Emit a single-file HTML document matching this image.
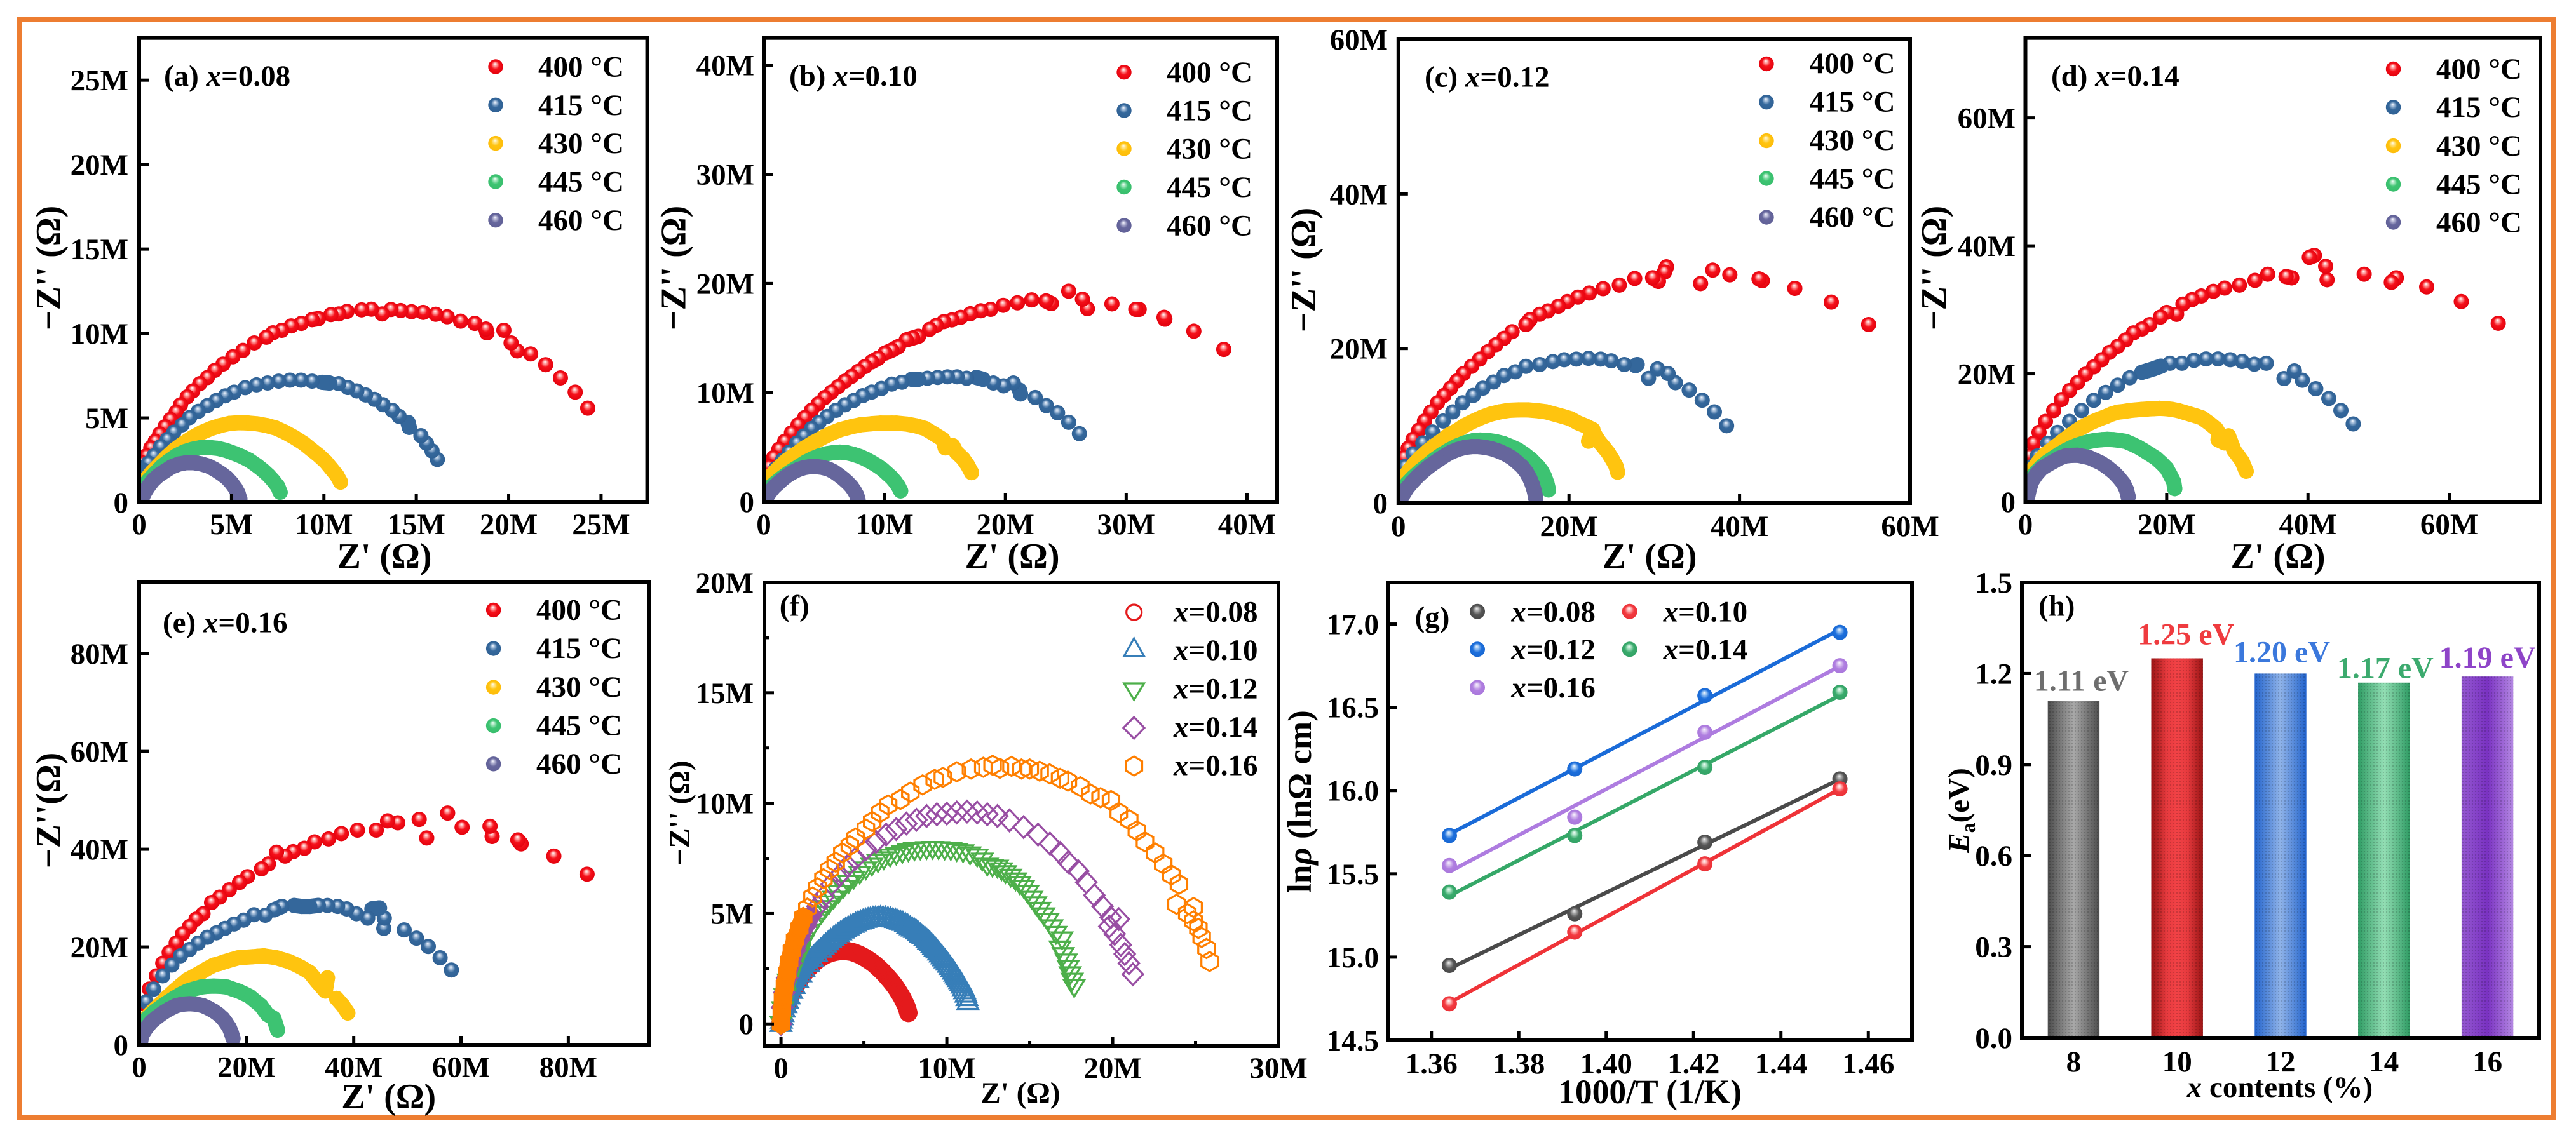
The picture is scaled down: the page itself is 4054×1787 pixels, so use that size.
<!DOCTYPE html>
<html lang="en">
<head>
<meta charset="utf-8">
<title>Impedance spectra and activation energy figure</title>
<style>
html,body{margin:0;padding:0;background:#fff;width:4054px;height:1787px;overflow:hidden}
svg{display:block}
text{font-family:"Liberation Serif","Times New Roman",serif;font-weight:bold;font-size:47px;fill:#000}
.ti{font-size:56px}
.it{font-style:italic}
.frame{fill:none;stroke:#000;stroke-width:6}
</style>
</head>
<body>
<svg id="figure" xmlns="http://www.w3.org/2000/svg" width="4054" height="1787" viewBox="0 0 4054 1787">
<defs>
<radialGradient id="ball-red" cx=".5" cy=".5" r=".55" fx=".46" fy=".3"><stop offset="0" stop-color="#fff"/><stop offset=".22" stop-color="#ff9a9a"/><stop offset=".5" stop-color="#f5101a"/><stop offset="1" stop-color="#e0000c"/></radialGradient>
<radialGradient id="ball-blue" cx=".5" cy=".5" r=".55" fx=".46" fy=".3"><stop offset="0" stop-color="#f4f8ff"/><stop offset=".22" stop-color="#9db8d6"/><stop offset=".5" stop-color="#35689c"/><stop offset="1" stop-color="#2f6093"/></radialGradient>
<radialGradient id="ball-yellow" cx=".5" cy=".5" r=".55" fx=".46" fy=".3"><stop offset="0" stop-color="#fffbe8"/><stop offset=".22" stop-color="#ffe285"/><stop offset=".5" stop-color="#ffc40f"/><stop offset="1" stop-color="#fdbb0a"/></radialGradient>
<radialGradient id="ball-green" cx=".5" cy=".5" r=".55" fx=".46" fy=".3"><stop offset="0" stop-color="#f2fff7"/><stop offset=".22" stop-color="#a3e6bd"/><stop offset=".5" stop-color="#3ec472"/><stop offset="1" stop-color="#37bd6c"/></radialGradient>
<radialGradient id="ball-purple" cx=".5" cy=".5" r=".55" fx=".46" fy=".3"><stop offset="0" stop-color="#f6f6ff"/><stop offset=".22" stop-color="#b5b5d4"/><stop offset=".5" stop-color="#67679d"/><stop offset="1" stop-color="#5f5f96"/></radialGradient>
<radialGradient id="g-gray" cx=".5" cy=".5" r=".55" fx=".46" fy=".3"><stop offset="0" stop-color="#f2f2f2"/><stop offset=".25" stop-color="#a8a8a8"/><stop offset=".55" stop-color="#575757"/><stop offset="1" stop-color="#444"/></radialGradient>
<radialGradient id="g-red" cx=".5" cy=".5" r=".55" fx=".46" fy=".3"><stop offset="0" stop-color="#fff"/><stop offset=".25" stop-color="#ffb0b0"/><stop offset=".55" stop-color="#f23a40"/><stop offset="1" stop-color="#e92f35"/></radialGradient>
<radialGradient id="g-blue" cx=".5" cy=".5" r=".55" fx=".46" fy=".3"><stop offset="0" stop-color="#f2f8ff"/><stop offset=".25" stop-color="#92bff2"/><stop offset=".55" stop-color="#1d6fdc"/><stop offset="1" stop-color="#1766d0"/></radialGradient>
<radialGradient id="g-green" cx=".5" cy=".5" r=".55" fx=".46" fy=".3"><stop offset="0" stop-color="#f2fff8"/><stop offset=".25" stop-color="#a4e0bf"/><stop offset=".55" stop-color="#39aa6c"/><stop offset="1" stop-color="#32a164"/></radialGradient>
<radialGradient id="g-purple" cx=".5" cy=".5" r=".55" fx=".46" fy=".3"><stop offset="0" stop-color="#fbf6ff"/><stop offset=".25" stop-color="#d8c0f0"/><stop offset=".55" stop-color="#b07fe0"/><stop offset="1" stop-color="#a875db"/></radialGradient>
<linearGradient id="bar-gray"><stop offset="0" stop-color="#4c4c4c"/><stop offset=".5" stop-color="#a8a8a8"/><stop offset="1" stop-color="#4c4c4c"/></linearGradient>
<linearGradient id="bar-red"><stop offset="0" stop-color="#9a1414"/><stop offset=".3" stop-color="#e63a3e"/><stop offset=".5" stop-color="#f24246"/><stop offset=".7" stop-color="#e63a3e"/><stop offset="1" stop-color="#9a1414"/></linearGradient>
<linearGradient id="bar-blue"><stop offset="0" stop-color="#2263cc"/><stop offset=".5" stop-color="#8fb3e8"/><stop offset="1" stop-color="#2263cc"/></linearGradient>
<linearGradient id="bar-green"><stop offset="0" stop-color="#2f9c64"/><stop offset=".5" stop-color="#93deb4"/><stop offset="1" stop-color="#2f9c64"/></linearGradient>
<linearGradient id="bar-purple"><stop offset="0" stop-color="#9458d0"/><stop offset=".5" stop-color="#7a32c2"/><stop offset="1" stop-color="#b488e2"/></linearGradient>
<pattern id="bar-dots" width="5" height="5" patternUnits="userSpaceOnUse"><rect width="2" height="2" fill="rgba(0,0,0,.16)"/></pattern>
<clipPath id="clip-a"><rect x="219" y="59.7" width="799.6" height="731.3"/></clipPath>
<clipPath id="clip-b"><rect x="1202" y="59.7" width="808" height="730.3"/></clipPath>
<clipPath id="clip-c"><rect x="2200.8" y="62" width="805.2" height="730"/></clipPath>
<clipPath id="clip-d"><rect x="3187.5" y="59.7" width="810.5" height="730.3"/></clipPath>
<clipPath id="clip-e"><rect x="219" y="916" width="802" height="729"/></clipPath>
<clipPath id="clip-f"><rect x="1203" y="917" width="809" height="730"/></clipPath>
</defs>

<rect width="4054" height="1787" fill="#fff"/>
<rect x="31" y="30" width="3988" height="1729" fill="none" stroke="#ED7D31" stroke-width="8"/>

<!-- panel a -->
<g>
<g id="plot-a" clip-path="url(#clip-a)"></g>
<rect class="frame" x="219" y="59.7" width="799.6" height="731.3"/>
<g id="ticks-a"></g>
<text x="258" y="135">(a) <tspan class="it">x</tspan>=0.08</text>
<text class="ti" x="605" y="894" text-anchor="middle">Z' (Ω)</text>
<text class="ti" transform="translate(95 422) rotate(-90)" text-anchor="middle">−Z'' (Ω)</text>
<g>
<circle cx="780" cy="105" r="11.7" fill="url(#ball-red)"/><text x="847" y="120.5">400 °C</text>
<circle cx="780" cy="165.3" r="11.7" fill="url(#ball-blue)"/><text x="847" y="181">415 °C</text>
<circle cx="780" cy="225.6" r="11.7" fill="url(#ball-yellow)"/><text x="847" y="241">430 °C</text>
<circle cx="780" cy="286" r="11.7" fill="url(#ball-green)"/><text x="847" y="301.5">445 °C</text>
<circle cx="780" cy="346.7" r="11.7" fill="url(#ball-purple)"/><text x="847" y="362">460 °C</text>
</g>
</g>

<!-- panel b -->
<g>
<g id="plot-b" clip-path="url(#clip-b)"></g>
<rect class="frame" x="1202" y="59.7" width="808" height="730.3"/>
<g id="ticks-b"></g>
<text x="1242" y="135">(b) <tspan class="it">x</tspan>=0.10</text>
<text class="ti" x="1593" y="894" text-anchor="middle">Z' (Ω)</text>
<text class="ti" transform="translate(1078.6 422) rotate(-90)" text-anchor="middle">−Z'' (Ω)</text>
<g>
<circle cx="1769" cy="113.7" r="11.7" fill="url(#ball-red)"/><text x="1836" y="129">400 °C</text>
<circle cx="1769" cy="174" r="11.7" fill="url(#ball-blue)"/><text x="1836" y="189.5">415 °C</text>
<circle cx="1769" cy="234" r="11.7" fill="url(#ball-yellow)"/><text x="1836" y="249.5">430 °C</text>
<circle cx="1769" cy="294.5" r="11.7" fill="url(#ball-green)"/><text x="1836" y="310">445 °C</text>
<circle cx="1769" cy="355" r="11.7" fill="url(#ball-purple)"/><text x="1836" y="370.5">460 °C</text>
</g>
</g>

<!-- panel c -->
<g>
<g id="plot-c" clip-path="url(#clip-c)"></g>
<rect class="frame" x="2200.8" y="62" width="805.2" height="730"/>
<g id="ticks-c"></g>
<text x="2242" y="136.6">(c) <tspan class="it">x</tspan>=0.12</text>
<text class="ti" x="2596" y="894" text-anchor="middle">Z' (Ω)</text>
<text class="ti" transform="translate(2070 425) rotate(-90)" text-anchor="middle">−Z'' (Ω)</text>
<g>
<circle cx="2780" cy="100.5" r="11.7" fill="url(#ball-red)"/><text x="2847.5" y="115">400 °C</text>
<circle cx="2780" cy="160.7" r="11.7" fill="url(#ball-blue)"/><text x="2847.5" y="175.5">415 °C</text>
<circle cx="2780" cy="221.6" r="11.7" fill="url(#ball-yellow)"/><text x="2847.5" y="236">430 °C</text>
<circle cx="2780" cy="281" r="11.7" fill="url(#ball-green)"/><text x="2847.5" y="296.5">445 °C</text>
<circle cx="2780" cy="342" r="11.7" fill="url(#ball-purple)"/><text x="2847.5" y="357">460 °C</text>
</g>
</g>

<!-- panel d -->
<g>
<g id="plot-d" clip-path="url(#clip-d)"></g>
<rect class="frame" x="3187.5" y="59.7" width="810.5" height="730.3"/>
<g id="ticks-d"></g>
<text x="3228" y="135">(d) <tspan class="it">x</tspan>=0.14</text>
<text class="ti" x="3585" y="894" text-anchor="middle">Z' (Ω)</text>
<text class="ti" transform="translate(3062 422) rotate(-90)" text-anchor="middle">−Z'' (Ω)</text>
<g>
<circle cx="3766.5" cy="108.5" r="11.7" fill="url(#ball-red)"/><text x="3834" y="124">400 °C</text>
<circle cx="3766.5" cy="168.8" r="11.7" fill="url(#ball-blue)"/><text x="3834" y="184">415 °C</text>
<circle cx="3766.5" cy="229.6" r="11.7" fill="url(#ball-yellow)"/><text x="3834" y="245">430 °C</text>
<circle cx="3766.5" cy="290" r="11.7" fill="url(#ball-green)"/><text x="3834" y="305.5">445 °C</text>
<circle cx="3766.5" cy="350" r="11.7" fill="url(#ball-purple)"/><text x="3834" y="365.5">460 °C</text>
</g>
</g>

<!-- panel e -->
<g>
<g id="plot-e" clip-path="url(#clip-e)"></g>
<rect class="frame" x="219" y="916" width="802" height="729"/>
<g id="ticks-e"></g>
<text x="256" y="995.7">(e) <tspan class="it">x</tspan>=0.16</text>
<text class="ti" x="611.7" y="1745" text-anchor="middle">Z' (Ω)</text>
<text class="ti" transform="translate(95 1276) rotate(-90)" text-anchor="middle">−Z''(Ω)</text>
<g>
<circle cx="776.6" cy="960.4" r="11.7" fill="url(#ball-red)"/><text x="844" y="975.4">400 °C</text>
<circle cx="776.6" cy="1021" r="11.7" fill="url(#ball-blue)"/><text x="844" y="1036">415 °C</text>
<circle cx="776.6" cy="1082" r="11.7" fill="url(#ball-yellow)"/><text x="844" y="1097">430 °C</text>
<circle cx="776.6" cy="1142.6" r="11.7" fill="url(#ball-green)"/><text x="844" y="1157.6">445 °C</text>
<circle cx="776.6" cy="1202.8" r="11.7" fill="url(#ball-purple)"/><text x="844" y="1217.8">460 °C</text>
</g>
</g>

<!-- panel f -->
<g>
<g id="plot-f" clip-path="url(#clip-f)"></g>
<rect class="frame" x="1203" y="917" width="809" height="730"/>
<g id="ticks-f"></g>
<text x="1226.7" y="969.7">(f)</text>
<text x="1606" y="1736" text-anchor="middle">Z' (Ω)</text>
<text transform="translate(1085 1280) rotate(-90)" text-anchor="middle">−Z'' (Ω)</text>
<g fill="none" stroke-width="3.2">
<circle cx="1784.7" cy="964" r="12" stroke="#E41A1C"/><text x="1847" y="978.3" stroke="none"><tspan class="it">x</tspan>=0.08</text>
<polygon points="1784.7,1005 1769,1033 1800.5,1033" stroke="#377EB8"/><text x="1847" y="1038.8" stroke="none"><tspan class="it">x</tspan>=0.10</text>
<polygon points="1769,1076 1800.5,1076 1784.7,1102" stroke="#4DAF4A"/><text x="1847" y="1099.3" stroke="none"><tspan class="it">x</tspan>=0.12</text>
<polygon points="1784.7,1129 1801,1146 1784.7,1163 1768,1146" stroke="#984EA3"/><text x="1847" y="1159.8" stroke="none"><tspan class="it">x</tspan>=0.14</text>
<polygon points="1784.7,1191 1797.5,1198.5 1797.5,1213.5 1784.7,1221 1772,1213.5 1772,1198.5" stroke="#FF7F00"/><text x="1847" y="1220.3" stroke="none"><tspan class="it">x</tspan>=0.16</text>
</g>
</g>

<!-- panel g -->
<g>
<g id="plot-g"></g>
<rect class="frame" x="2184" y="917" width="825" height="721"/>
<g id="ticks-g"></g>
<text x="2226.6" y="987">(g)</text>
<text style="font-size:53.5px" x="2596.6" y="1737" text-anchor="middle">1000/T (1/K)</text>
<text style="font-size:53px" transform="translate(2063 1262) rotate(-90)" text-anchor="middle">ln<tspan class="it">ρ</tspan> (lnΩ cm)</text>
<g>
<circle cx="2325" cy="962.7" r="12" fill="url(#g-gray)"/><text x="2378.4" y="978.3"><tspan class="it">x</tspan>=0.08</text>
<circle cx="2564.7" cy="962.7" r="12" fill="url(#g-red)"/><text x="2617.6" y="978.3"><tspan class="it">x</tspan>=0.10</text>
<circle cx="2325" cy="1022.3" r="12" fill="url(#g-blue)"/><text x="2378.4" y="1038"><tspan class="it">x</tspan>=0.12</text>
<circle cx="2564.7" cy="1022.3" r="12" fill="url(#g-green)"/><text x="2617.6" y="1038"><tspan class="it">x</tspan>=0.14</text>
<circle cx="2325" cy="1082.5" r="12" fill="url(#g-purple)"/><text x="2378.4" y="1098"><tspan class="it">x</tspan>=0.16</text>
</g>
</g>

<!-- panel h -->
<g>
<g id="plot-h"></g>
<rect class="frame" x="3182" y="917" width="814" height="717"/>
<g id="ticks-h"></g>
<text x="3208" y="969.7">(h)</text>
<text x="3588" y="1727" text-anchor="middle"><tspan class="it">x</tspan> contents (%)</text>
<text transform="translate(3098 1276) rotate(-90)" text-anchor="middle"><tspan class="it">E</tspan><tspan dy="10" style="font-size:32px">a</tspan><tspan dy="-10">(eV)</tspan></text>
</g>
</svg>

<script>
/* Panel a, Z' and -Z'' pairs in megaohms */
const a400=[[24.28,5.58],[23.6,6.53],[22.8,7.37],[22,8.15],[21.19,8.79],[20.46,8.97],[20.13,9.44],[19.74,10.19],[18.82,10.04],[18.77,10.26],[18.17,10.6],[17.4,10.73],[16.67,10.99],[16.05,11.14],[15.37,11.25],[14.74,11.29],[14.16,11.36],[13.63,11.42],[13.15,11.16],[12.57,11.44],[12.04,11.4],[11.25,11.31],[10.81,11.16],[10.38,11.12],[9.7,10.88],[9.36,10.82],[8.78,10.6],[8.23,10.45],[7.72,10.19],[7.24,10.04],[6.88,9.78],[6.23,9.44],[5.62,9],[5.07,8.62],[4.54,8.19],[4.1,7.82],[3.69,7.39],[3.28,7.03],[2.9,6.6],[2.6,6.25],[2.24,5.78],[2,5.34],[1.69,4.91],[1.4,4.48],[1.11,4.05],[.87,3.62],[.63,3.23],[.39,2.76],[.19,2.33],[.1,1.9]];
const a415=[[16.14,2.54],[15.85,3.05],[15.55,3.5],[15.25,3.95],[14.62,4.44],[14.55,4.74],[14.07,5.09],[13.7,5.45],[13.2,5.78],[12.74,6.1],[12.26,6.36],[11.78,6.6],[11.3,6.8],[10.8,7.03],[10.3,7.07],[9.9,7.11],[9.36,7.18],[8.76,7.24],[8.16,7.24],[7.55,7.18],[6.95,7.07],[6.35,6.96],[5.74,6.79],[5.14,6.53],[4.66,6.31],[4.17,6.03],[3.69,5.73],[3.2,5.39],[2.73,5.02],[2.32,4.59],[1.88,4.16],[1.52,3.73],[1.16,3.3],[.8,2.76],[.5,2.33],[.25,1.9],[.1,1.47]];
const a430=[[10.9,1.2],[10.7,1.6],[10.4,2],[10.1,2.4],[9.7,2.8],[9.3,3.15],[8.9,3.5],[8.4,3.85],[7.9,4.15],[7.4,4.4],[6.9,4.55],[6.4,4.65],[5.9,4.7],[5.4,4.72],[4.9,4.68],[4.4,4.55],[3.9,4.38],[3.4,4.15],[2.9,3.85],[2.4,3.5],[1.9,3.1],[1.5,2.7],[1.1,2.25],[.7,1.8],[.4,1.4],[.15,1]];
const a445=[[7.63,.6],[7.5,.95],[7.25,1.3],[7,1.6],[6.7,1.9],[6.35,2.2],[5.95,2.5],[5.55,2.72],[5.15,2.9],[4.7,3.08],[4.25,3.2],[3.8,3.25],[3.35,3.25],[2.9,3.15],[2.45,3],[2,2.75],[1.6,2.45],[1.2,2.1],[.85,1.7],[.5,1.3],[.25,.95],[.1,.6]];
const a460=[[5.45,.2],[5.35,.55],[5.2,.85],[5,1.15],[4.75,1.45],[4.45,1.7],[4.1,1.95],[3.75,2.15],[3.35,2.28],[2.95,2.35],[2.55,2.35],[2.15,2.27],[1.75,2.1],[1.4,1.85],[1.05,1.6],[.75,1.3],[.5,.95],[.3,.6],[.15,.25],[.1,.05]];
const aXTicks=[0,5,10,15,20,25];
const aYTicks=[0,5,10,15,20,25];

/* Panel b */
const b400=[[38.08,13.96],[35.6,15.63],[33.2,16.73],[33.14,16.9],[31.07,17.63],[30.8,17.63],[28.82,18.13],[26.79,17.7],[26.38,18.56],[25.24,19.3],[23.8,18.16],[23.36,18.4],[22.18,18.5],[21,18.23],[19.82,18],[18.78,17.63],[17.97,17.5],[17.1,17.23],[16.3,16.9],[15.57,16.66],[14.9,16.5],[14.28,16.16],[13.73,15.8],[12.8,15.16],[12.32,15],[11.8,14.83],[11.14,14.22],[10.6,13.89],[10.04,13.62],[9.48,13.16],[8.93,12.82],[8.38,12.39],[7.82,11.95],[7.27,11.49],[6.72,11.05],[6.16,10.55],[5.6,10.05],[5.05,9.55],[4.5,8.98],[3.95,8.38],[3.39,7.71],[2.84,7.05],[2.29,6.31],[1.73,5.54],[1.25,4.81],[.81,4.04],[.44,3.2]];
const b415=[[26.13,6.24],[25.24,7.28],[24.32,8.15],[23.39,8.81],[22.47,9.55],[21.25,9.88],[21.18,10.22],[20.66,10.88],[19.85,10.62],[19,10.88],[18.15,11.22],[17.6,11.39],[16.79,11.32],[16,11.45],[15.2,11.45],[14.39,11.39],[13.54,11.32],[12.8,11.22],[12.25,11.22],[11.44,10.95],[10.59,10.78],[9.74,10.38],[8.93,10.05],[8.19,9.72],[7.45,9.28],[6.72,8.88],[5.98,8.38],[5.24,7.81],[4.58,7.28],[3.95,6.71],[3.32,6.04],[2.73,5.38],[2.1,4.54],[1.55,3.81],[1,3.04],[.44,2.2]];
const b430=[[17.2,2.67],[16.86,3.37],[16.5,3.94],[15.94,4.54],[15.65,5.14],[15.02,4.94],[14.83,5.71],[14.1,6.21],[13.36,6.71],[12.62,6.95],[11.88,7.11],[10.96,7.21],[10.6,7.21],[9.67,7.21],[8.93,7.15],[8,7.05],[7.27,6.88],[6.35,6.61],[5.6,6.28],[4.87,5.88],[4.13,5.44],[3.39,4.94],[2.66,4.37],[1.92,3.81],[1.18,3.04],[.44,2.2],[.1,1.7]];
const b445=[[11.33,1],[11.15,1.4],[10.9,1.8],[10.6,2.2],[10.25,2.55],[9.85,2.95],[9.4,3.3],[8.95,3.6],[8.45,3.9],[7.95,4.15],[7.4,4.35],[6.85,4.5],[6.3,4.55],[5.75,4.5],[5.2,4.4],[4.6,4.2],[4.05,3.95],[3.5,3.65],[3,3.3],[2.5,2.95],[2,2.6],[1.5,2.2],[1.05,1.8],[.6,1.4],[.25,1],[.1,.6]];
const b460=[[7.8,.2],[7.7,.6],[7.5,1],[7.25,1.4],[6.95,1.75],[6.6,2.1],[6.2,2.45],[5.8,2.75],[5.35,3],[4.85,3.15],[4.35,3.22],[3.85,3.22],[3.35,3.13],[2.85,2.95],[2.4,2.7],[1.95,2.4],[1.55,2.05],[1.2,1.7],[.85,1.35],[.55,.95],[.3,.55],[.15,.15]];
const bXTicks=[0,10,20,30,40];
const bYTicks=[0,10,20,30,40];

/* Panel c */
const c400=[[55.14,23.1],[50.76,26],[46.48,27.78],[42.67,28.77],[42.29,29],[38.86,29.53],[36.86,30.14],[35.43,28.4],[31.43,30.57],[31.2,29.9],[30.48,28.68],[29.81,29.15],[27.71,29.06],[25.9,28.2],[24,27.74],[22.38,27.17],[21.05,26.65],[19.81,26.08],[18.76,25.47],[17.52,24.86],[16.57,24.43],[15.43,23.73],[14.95,23.1],[13.33,22.17],[12.38,21.32],[11.43,20.5],[10.48,19.58],[9.52,18.63],[8.57,17.69],[7.62,16.75],[6.86,15.8],[6.1,14.86],[5.33,13.92],[4.57,12.97],[3.81,11.79],[3.05,10.61],[2.38,9.43],[1.71,8.25],[1.14,7.08],[.67,5.9],[.29,4.72]];
const c415=[[38.48,10],[37.05,11.79],[35.62,13.3],[34.1,14.62],[32.48,15.57],[31.62,16.75],[30.38,17.36],[29.33,16.13],[28,17.92],[27.81,17.78],[26.48,17.92],[24.95,18.4],[23.71,18.63],[22.29,18.73],[20.86,18.63],[19.43,18.54],[18.1,18.3],[16.57,17.92],[14.95,17.69],[13.71,16.98],[12.38,16.5],[11.14,15.66],[9.9,14.86],[8.76,13.92],[7.52,12.97],[6.38,11.79],[5.24,10.61],[4,9.2],[2.86,7.78],[1.71,6.37],[.76,4.72]];
const c430=[[25.7,4],[25.5,4.8],[25.1,5.6],[24.6,6.5],[24.1,7.2],[23.5,8],[23,8.9],[22.3,8],[22.8,9.5],[21.9,10],[21,10.4],[20.2,10.9],[19.3,11.2],[18.3,11.5],[17.3,11.8],[16.3,11.95],[15.2,12.05],[14.1,12.05],[13,12],[11.9,11.8],[10.8,11.5],[9.8,11.1],[8.8,10.6],[7.8,10.05],[6.9,9.4],[5.9,8.8],[5.1,8.1],[4.2,7.4],[3.4,6.7],[2.6,5.9],[1.9,5.1],[1.3,4.3],[.8,3.5]];
const c445=[[17.6,1.7],[17.4,2.6],[17.1,3.5],[16.75,4.2],[16.4,4.7],[15.6,5.6],[14.8,6.3],[14,6.9],[13.2,7.3],[12.3,7.7],[11.4,7.95],[10.5,8.1],[9.6,8.15],[8.7,8.05],[7.8,7.8],[6.9,7.4],[6,6.9],[5.1,6.3],[4.2,5.6],[3.3,4.8],[2.5,4.1],[1.7,3.3],[1,2.5],[.5,1.7]];
const c460=[[16.1,.6],[15.95,1.5],[15.7,2.4],[15.4,3.2],[15,4],[14.5,4.7],[13.9,5.3],[13.3,5.85],[12.6,6.3],[11.8,6.7],[11,7],[10.2,7.2],[9.4,7.3],[8.6,7.3],[7.8,7.2],[7,6.95],[6.2,6.6],[5.4,6.1],[4.6,5.5],[3.8,4.9],[3,4.2],[2.3,3.5],[1.6,2.7],[1,1.9],[.5,1],[.2,.3]];
const cXTicks=[0,20,40,60];
const cYTicks=[0,20,40,60];

/* Panel d */
const d400=[[66.93,27.9],[61.7,31.3],[56.8,33.58],[52.5,35],[51.8,34.3],[47.95,35.57],[42.7,34.7],[42.5,36.8],[40.9,38.5],[40.2,38.2],[37.7,35],[36.9,35.2],[34.3,35.57],[32.5,34.6],[30.3,33.86],[28.2,33.4],[26.6,32.9],[24.9,32.16],[23.6,31.6],[22.3,30.9],[21.4,29.3],[20,29.6],[19.1,28.86],[17.6,27.7],[16.5,27],[15.3,26.4],[14.2,25.3],[13.07,24.3],[11.9,23.35],[10.8,22.2],[9.66,21.08],[8.5,19.94],[7.39,18.64],[6.25,17.39],[5.1,15.97],[4,14.26],[2.84,12.56],[1.93,10.85],[1.14,9.15],[.57,7.16]];
const d415=[[46.4,12.16],[44.66,14.26],[42.95,16.14],[41.1,17.67],[39.2,19],[38.07,20.45],[36.6,19.26],[34.1,21.65],[32.4,21.5],[30.68,21.93],[29,22.2],[27.27,22.33],[25.57,22.33],[23.86,22.1],[22.16,21.65],[20.45,21.65],[19.2,21.2],[18.18,20.8],[17.3,20.5],[16.48,20.23],[14.77,19.38],[13.07,18.24],[11.36,17.1],[9.66,15.85],[7.95,14.26],[6.25,12.56],[4.55,10.85],[3.18,9.15],[1.7,7.16],[.8,5.45]];
const d430=[[31.25,4.77],[30.68,6.3],[30.1,7.2],[29.55,8],[28.75,10.3],[27.27,9.7],[28.2,9.2],[27,11.4],[26,12.3],[25,13.1],[24.2,13.4],[23.3,13.7],[22.4,14],[21.6,14.26],[20.7,14.45],[19.9,14.55],[19,14.6],[18.18,14.55],[17.3,14.5],[16.48,14.43],[15.6,14.35],[14.77,14.26],[13.9,14.1],[13.07,14],[12.2,13.7],[11.36,13.3],[10.5,12.95],[9.66,12.56],[8.8,12.1],[7.95,11.6],[7.1,11],[6.25,10.3],[5.4,9.6],[4.55,8.86],[3.7,8.15],[2.84,7.44],[2.2,6.7],[1.7,6],[1.1,5.1],[.57,4.3]];
const d445=[[21.14,2.05],[21,3.1],[20.45,4.3],[20,5.2],[19.3,6],[18.5,6.8],[17.6,7.44],[16.8,8],[15.9,8.58],[15,9.05],[14.2,9.43],[13.3,9.6],[12.5,9.7],[11.6,9.75],[10.8,9.7],[9.9,9.6],[9.1,9.43],[8.2,9.15],[7.39,8.86],[6.5,8.45],[5.68,8],[4.8,7.45],[4,6.87],[3.1,6.2],[2.27,5.45],[1.5,4.6],[.9,3.75]];
const d460=[[14.55,.8],[14.3,1.9],[13.86,2.9],[13.2,3.8],[12.5,4.6],[11.7,5.3],[10.8,6],[9.95,6.45],[9.1,6.87],[8.2,7.1],[7.39,7.27],[6.5,7.25],[5.68,7.16],[4.8,6.8],[4,6.3],[3.1,5.75],[2.27,5.17],[1.5,4.2],[.9,3.18],[.55,2],[.34,.9]];
const dXTicks=[0,20,40,60];
const dYTicks=[0,20,40,60];

/* Panel e */
const e400=[[83.5,34.9],[77.3,38.6],[71.2,41.1],[70.6,41.9],[65.8,42.6],[65.4,44.7],[60.2,44.5],[57.5,47.4],[53.6,42.3],[52.2,46.1],[48.2,45.4],[46.3,45.8],[44.2,43.9],[40.7,43.9],[37.7,43.2],[35.3,42.1],[32.7,41.5],[30.8,40.2],[28.7,39.5],[27.2,38.6],[25.6,39.4],[24.1,37],[22.8,36],[20.2,34.4],[18.7,33.2],[16.8,31.7],[15,30.2],[13.5,29.1],[11.9,26.8],[10.6,25.7],[9.4,24.2],[8.1,22.7],[6.9,20.8],[5.6,18.9],[4.4,16.7],[3.2,14.1],[1.9,11.4],[.8,8.4]];
const e415=[[58.2,15.3],[56.1,17.8],[53.9,20.1],[51.7,21.8],[49.4,23.5],[45.6,23.8],[45.7,25.9],[44.8,28],[43.4,27.8],[42.6,25.9],[40.5,26.8],[38.7,27.8],[37,28.3],[35.1,28.5],[33.4,28.5],[31.8,28.3],[30.3,28.3],[28.9,28.5],[26.6,28.3],[25.1,27.6],[23.5,26.5],[21.4,26.6],[19.5,25.5],[17.7,24.7],[16,23.8],[14.4,22.9],[12.7,22],[11,20.8],[9.4,19.5],[7.7,18.2],[6.1,16.3],[4.4,14.1],[2.7,11.4],[1.3,8.8]];
const e430=[[38.9,6.5],[38,8],[36.8,9.5],[35.1,13.7],[34.7,11],[33.2,12.9],[31.8,14.8],[30.1,15.9],[29,16.5],[28,17],[26.8,17.4],[25.6,17.8],[24.4,18],[23.2,18.2],[22.1,18.1],[21,18],[19.7,17.9],[18.5,17.8],[17.2,17.4],[16,17],[14.9,16.6],[13.9,16.3],[12.7,15.6],[11.5,14.8],[10.2,14],[9,13.3],[7.8,12.2],[6.5,11],[5.2,9.7],[4,8.4],[2.9,7.3],[1.9,6.2],[1,5.2],[.25,4.3]];
const e445=[[25.8,3],[25.4,4.4],[25.1,5.4],[23.9,6.2],[23.3,7.1],[22.7,8],[21.6,9],[20.6,9.9],[19.5,10.5],[18.5,11],[17.4,11.4],[16.4,11.8],[15.2,11.95],[13.9,12],[12.7,11.95],[11.5,11.8],[10.2,11.4],[9,11],[7.7,10.3],[6.5,9.5],[5.2,8.6],[4,7.7],[2.9,6.8],[1.9,5.8],[1,4.9],[.25,3.9]];
const e460=[[17.5,1.3],[17.2,2.4],[16.8,3.5],[16.2,4.5],[15.6,5.4],[14.8,6.2],[13.9,6.9],[12.9,7.5],[11.9,8],[10.7,8.3],[9.4,8.4],[8.1,8.3],[6.9,8],[5.6,7.3],[4.4,6.5],[3.3,5.6],[2.3,4.7],[1.3,3.4],[.5,2],[.25,.5]];
const eXTicks=[0,20,40,60,80];
const eYTicks=[0,20,40,60,80];

/* Panel f */
const f008=[[0,0],[.02,.1],[.05,.22],[.1,.36],[.15,.5],[.22,.65],[.3,.82],[.4,1],[.5,1.18],[.62,1.37],[.75,1.55],[.9,1.75],[1.05,1.93],[1.2,2.1],[1.4,2.3],[1.6,2.47],[1.8,2.63],[2,2.78],[2.25,2.93],[2.5,3.05],[2.75,3.15],[3,3.22],[3.25,3.27],[3.5,3.3],[3.75,3.31],[4,3.3],[4.25,3.27],[4.5,3.21],[4.75,3.13],[5,3.03],[5.2,2.94],[5.4,2.84],[5.6,2.73],[5.8,2.6],[6,2.46],[6.15,2.35],[6.3,2.23],[6.45,2.1],[6.6,1.97],[6.75,1.83],[6.9,1.68],[7,1.57],[7.1,1.45],[7.2,1.33],[7.3,1.2],[7.4,1.05],[7.5,.9],[7.6,.72],[7.68,.5]];
const f010=[[0,0],[.03,.15],[.07,.3],[.12,.45],[.2,.65],[.3,.85],[.4,1.05],[.5,1.25],[.65,1.5],[.8,1.72],[1,2],[1.2,2.25],[1.4,2.47],[1.65,2.72],[1.9,2.95],[2.15,3.17],[2.4,3.37],[2.55,3.49],[2.7,3.6],[2.85,3.7],[3,3.8],[3.15,3.89],[3.3,3.98],[3.45,4.07],[3.6,4.15],[3.75,4.23],[3.9,4.3],[4.05,4.37],[4.2,4.43],[4.35,4.49],[4.5,4.55],[4.65,4.6],[4.8,4.64],[4.95,4.68],[5.1,4.72],[5.25,4.75],[5.4,4.78],[5.55,4.8],[5.7,4.81],[5.85,4.82],[6,4.83],[6.15,4.82],[6.3,4.81],[6.45,4.79],[6.6,4.77],[6.75,4.74],[6.9,4.71],[7.05,4.67],[7.2,4.63],[7.35,4.58],[7.5,4.52],[7.65,4.45],[7.8,4.38],[7.92,4.32],[8.05,4.26],[8.18,4.19],[8.3,4.12],[8.42,4.05],[8.55,3.97],[8.68,3.89],[8.8,3.8],[8.9,3.73],[9,3.65],[9.1,3.58],[9.2,3.5],[9.3,3.42],[9.4,3.33],[9.5,3.24],[9.6,3.15],[9.7,3.06],[9.8,2.97],[9.9,2.88],[10,2.78],[10.1,2.68],[10.2,2.58],[10.3,2.48],[10.4,2.37],[10.48,2.28],[10.55,2.2],[10.62,2.12],[10.7,2.03],[10.78,1.94],[10.85,1.85],[10.92,1.74],[11,1.62],[11.08,1.48],[11.15,1.33],[11.22,1.17],[11.27,1]];
const f012=[[0,0],[.1,.67],[.24,1.25],[.44,1.92],[.73,2.58],[1.02,3.17],[1.34,3.67],[1.7,4.17],[1.95,4.46],[2.2,4.75],[2.44,5],[2.68,5.25],[2.92,5.46],[3.17,5.67],[3.47,5.92],[3.78,6.17],[4.08,6.38],[4.39,6.58],[4.75,6.8],[5.12,7],[5.48,7.17],[5.85,7.33],[6.2,7.46],[6.58,7.58],[6.95,7.67],[7.32,7.75],[7.68,7.82],[8.05,7.87],[8.4,7.9],[8.78,7.92],[9.14,7.93],[9.5,7.92],[9.87,7.9],[10.24,7.88],[10.6,7.83],[10.98,7.78],[11.4,7.68],[11.83,7.58],[12.14,7.4],[12.44,7.17],[12.75,7.12],[13.05,7.08],[13.3,6.96],[13.54,6.83],[13.85,6.67],[14.15,6.5],[14.4,6.33],[14.63,6.17],[14.88,5.92],[15.12,5.67],[15.36,5.42],[15.6,5.17],[15.85,4.92],[16.1,4.67],[16.34,4.38],[16.58,4.08],[16.95,3.83],[16.83,3.42],[17.02,3.12],[17.2,2.83],[17.32,2.54],[17.44,2.25],[17.56,1.96],[17.68,1.67]];
const f014=[[0,0],[.07,.75],[.2,1.42],[.37,2.08],[.6,2.75],[.85,3.33],[1.1,3.83],[1.46,4.42],[1.83,4.92],[2.2,5.33],[2.56,5.75],[3.05,6.33],[3.54,6.75],[4.02,7.17],[4.5,7.5],[5.12,7.92],[5.73,8.25],[6.34,8.58],[6.95,8.83],[7.56,9.08],[8.17,9.25],[8.78,9.42],[9.4,9.5],[10,9.53],[10.6,9.58],[11.22,9.62],[11.83,9.58],[12.44,9.5],[13.05,9.42],[13.78,9.22],[14.63,8.92],[15.5,8.58],[16.22,8.17],[16.83,7.75],[17.32,7.33],[17.93,6.92],[18.41,6.42],[18.9,5.83],[19.39,5.33],[19.88,4.83],[20.37,4.75],[19.8,4.42],[20.12,4.08],[20.49,3.58],[20.73,3.17],[20.98,2.75],[21.22,2.25]];
const f016=[[0,0],[.05,.58],[.12,1.17],[.24,1.75],[.37,2.33],[.49,2.83],[.66,3.33],[.85,3.83],[1.1,4.33],[1.34,4.83],[1.59,5.25],[1.9,5.75],[2.2,6.17],[2.56,6.58],[2.93,7],[3.3,7.33],[3.7,7.75],[4.15,8.08],[4.5,8.42],[5.12,8.83],[5.5,9.17],[5.98,9.58],[6.46,9.92],[7.2,10.17],[7.8,10.5],[8.54,10.83],[9.27,11.08],[9.76,11.17],[10.6,11.42],[11.46,11.55],[12.2,11.63],[12.76,11.72],[13.2,11.58],[13.9,11.67],[14.5,11.55],[15,11.55],[15.6,11.45],[16.2,11.33],[16.83,11.13],[17.3,11],[18.05,10.75],[18.66,10.42],[19.27,10.25],[19.9,10.12],[20.37,9.58],[21,9.25],[21.46,8.75],[21.95,8.25],[22.56,7.75],[23.05,7.25],[23.54,6.75],[24,6.33],[23.85,5.42],[24.88,5.28],[24.5,5],[24.88,4.67],[25.17,4.33],[25.37,3.92],[25.66,3.42],[25.85,2.83]];
const fXTicks=[0,10,20,30];
const fXMinorTicks=[5,15,25];
const fYTicks=[0,5,10,15,20];
const fYMinorTicks=[2.5,7.5,12.5,17.5];

/* Panel g */
const gTemperatureX=[1.3641,1.3928,1.4226,1.4535];
const gX008=[14.95,15.26,15.69,16.07];
const gX010=[14.72,15.15,15.56,16.01];
const gX012=[15.73,16.13,16.57,16.95];
const gX014=[15.39,15.73,16.14,16.59];
const gX016=[15.55,15.84,16.35,16.75];
const gXTicks=[1.36,1.38,1.40,1.42,1.44,1.46];
const gXTickLabels=['1.36','1.38','1.40','1.42','1.44','1.46'];
const gYTicks=[14.5,15,15.5,16,16.5,17];
const gYTickLabels=['14.5','15.0','15.5','16.0','16.5','17.0'];

/* Panel h */
const hCategories=[8,10,12,14,16];
const hActivationEnergy=[1.11,1.25,1.20,1.17,1.19];
const hValueLabels=['1.11 eV','1.25 eV','1.20 eV','1.17 eV','1.19 eV'];
const hYTicks=[0,.3,.6,.9,1.2,1.5];
const hYTickLabels=['0.0','0.3','0.6','0.9','1.2','1.5'];

const layoutA={id:'a',left:219,right:1018.6,top:59.7,bottom:791,xMin:0,xMax:27.5,yMin:0,yMax:27.5,xLabelY:841,yLabelX:202};
const layoutB={id:'b',left:1202,right:2010,top:59.7,bottom:790,xMin:0,xMax:42.5,yMin:0,yMax:42.5,xLabelY:841,yLabelX:1187};
const layoutC={id:'c',left:2200.8,right:3006,top:62,bottom:792,xMin:0,xMax:60,yMin:0,yMax:60,xLabelY:844,yLabelX:2184};
const layoutD={id:'d',left:3187.5,right:3998,top:59.7,bottom:790,xMin:0,xMax:72.9,yMin:0,yMax:72.5,xLabelY:841,yLabelX:3172};
const layoutE={id:'e',left:219,right:1021,top:916,bottom:1645,xMin:0,xMax:95,yMin:0,yMax:94.7,xLabelY:1695.6,yLabelX:202};
const layoutF={id:'f',left:1203,right:2012,top:917,bottom:1647,xMin:-1,xMax:30,yMin:-1,yMax:20,xLabelY:1697,yLabelX:1186};
const layoutG={id:'g',left:2184,right:3009,top:917,bottom:1638,xMin:1.35,xMax:1.47,yMin:14.5,yMax:17.25,xLabelY:1690,yLabelX:2170};
const layoutH={id:'h',left:3182,right:3996,top:917,bottom:1634,xMin:7,xMax:17,yMin:0,yMax:1.5,xLabelY:1687,yLabelX:3167};

const SVGNS='http://www.w3.org/2000/svg';
const BALL_RADIUS=12;
const NYQUIST_STYLES=[
  {temp:'400',ball:'url(#ball-red)',solid:'#f0101a',bandGap:12,ballGap:0},
  {temp:'415',ball:'url(#ball-blue)',solid:'#34679b',bandGap:14,ballGap:13},
  {temp:'430',ball:'url(#ball-yellow)',solid:'#ffc40f',bandGap:30,ballGap:99999},
  {temp:'445',ball:'url(#ball-green)',solid:'#3dc372',bandGap:30,ballGap:99999},
  {temp:'460',ball:'url(#ball-purple)',solid:'#66669c',bandGap:30,ballGap:99999}
];

function linearScale(dMin,dMax,pMin,pMax){
  return function(v){return pMin+(v-dMin)/(dMax-dMin)*(pMax-pMin);};
}
function xAxisOf(l){return linearScale(l.xMin,l.xMax,l.left,l.right);}
function yAxisOf(l){return linearScale(l.yMin,l.yMax,l.bottom,l.top);}
function megaLabel(v){return v===0?'0':v+'M';}

function addTickLine(parent,x1,y1,x2,y2,name){
  const el=document.createElementNS(SVGNS,'line');
  el.setAttribute('x1',x1);el.setAttribute('y1',y1);el.setAttribute('x2',x2);el.setAttribute('y2',y2);
  el.setAttribute('stroke','#000');el.setAttribute('stroke-width',5);
  
  
  parent.appendChild(el);
}
function addTickText(parent,str,x,y,anchor,name){
  const el=document.createElementNS(SVGNS,'text');
  el.setAttribute('x',x);el.setAttribute('y',y);el.setAttribute('text-anchor',anchor);
  el.textContent=str;
  
  
  parent.appendChild(el);
}
function drawAxisTicks(l,xTicks,xLabels,yTicks,yLabels,xMinor,yMinor,showXMarks){
  const g=document.getElementById('ticks-'+l.id);
  const xs=xAxisOf(l),ys=yAxisOf(l);
  xTicks.forEach(function(v,i){
    if(showXMarks){addTickLine(g,xs(v),l.bottom,xs(v),l.bottom-14,'x-tick-mark');}
    addTickText(g,xLabels[i],xs(v),l.xLabelY,'middle','x-tick-label');
  });
  yTicks.forEach(function(v,i){
    addTickLine(g,l.left,ys(v),l.left+15,ys(v),'y-tick-mark');
    addTickText(g,yLabels[i],l.yLabelX,ys(v)+16,'end','y-tick-label');
  });
  xMinor.forEach(function(v){addTickLine(g,xs(v),l.bottom,xs(v),l.bottom-8,'x-minor-tick');});
  yMinor.forEach(function(v){addTickLine(g,l.left,ys(v),l.left+8,ys(v),'y-minor-tick');});
}
function addBall(parent,cx,cy,r,fill,name){
  const el=document.createElementNS(SVGNS,'circle');
  el.setAttribute('cx',cx);el.setAttribute('cy',cy);el.setAttribute('r',r);el.setAttribute('fill',fill);
  
  
  parent.appendChild(el);
}
function addBand(parent,d,color,width,name){
  const el=document.createElementNS(SVGNS,'path');
  el.setAttribute('d',d);
  el.setAttribute('fill','none');el.setAttribute('stroke',color);el.setAttribute('stroke-width',width);
  el.setAttribute('stroke-linecap','round');el.setAttribute('stroke-linejoin','round');
  
  
  parent.appendChild(el);
}
function pixelGap(a,b){return Math.hypot(a[0]-b[0],a[1]-b[1]);}
function drawNyquistSeries(l,points,style,name){
  const g=document.getElementById('plot-'+l.id);
  const xs=xAxisOf(l),ys=yAxisOf(l);
  const px=points.map(function(p){return [xs(p[0]),ys(p[1])];});
  let d='';
  px.forEach(function(p,i){
    if(i>0&&pixelGap(p,px[i-1])<=style.bandGap){
      d+='M'+px[i-1][0]+' '+px[i-1][1]+'L'+p[0]+' '+p[1];
    }
  });
  if(d){addBand(g,d,style.solid,BALL_RADIUS*2,name+'-dense-band');}
  px.forEach(function(p,i){
    const prev=i>0?pixelGap(p,px[i-1]):1e9;
    const next=i<px.length-1?pixelGap(p,px[i+1]):1e9;
    const gap=Math.min(prev,next);
    addBall(g,p[0],p[1],BALL_RADIUS,gap>=style.ballGap&&style.ballGap<99999?style.ball:style.solid,name);
  });
}
function drawNyquistPanel(l,series){
  series.forEach(function(s,i){drawNyquistSeries(l,s,NYQUIST_STYLES[i],'point-'+l.id+'-'+NYQUIST_STYLES[i].temp);});
}

function hollowShape(shape,cx,cy){
  let pts='';
  if(shape==='up'){pts=[[cx,cy-17],[cx-16,cy+11],[cx+16,cy+11]];}
  if(shape==='down'){pts=[[cx-16,cy-11],[cx+16,cy-11],[cx,cy+15]];}
  if(shape==='diamond'){pts=[[cx,cy-17],[cx+16,cy],[cx,cy+17],[cx-16,cy]];}
  if(shape==='hexagon'){pts=[[cx,cy-15],[cx+13,cy-7.5],[cx+13,cy+7.5],[cx,cy+15],[cx-13,cy+7.5],[cx-13,cy-7.5]];}
  return pts.map(function(p){return p[0]+','+p[1];}).join(' ');
}
function drawHollowSeries(l,points,shape,color,sw,solidCount,solidWidth,name){
  const g=document.getElementById('plot-'+l.id);
  const xs=xAxisOf(l),ys=yAxisOf(l);
  if(solidCount>1){
    let d='';
    points.slice(0,solidCount).forEach(function(p,i){d+=(i?'L':'M')+xs(p[0])+' '+ys(p[1]);});
    addBand(g,d,color,solidWidth,name+'-dense-band');
  }
  points.forEach(function(p){
    let el;
    if(shape==='circle'){
      el=document.createElementNS(SVGNS,'circle');
      el.setAttribute('cx',xs(p[0]));el.setAttribute('cy',ys(p[1]));el.setAttribute('r',12);
    }else{
      el=document.createElementNS(SVGNS,'polygon');
      el.setAttribute('points',hollowShape(shape,xs(p[0]),ys(p[1])));
    }
    el.setAttribute('fill','none');el.setAttribute('stroke',color);el.setAttribute('stroke-width',sw);
    
    
    g.appendChild(el);
  });
}
function drawFitSeries(l,xVals,yVals,color,fill,name){
  const g=document.getElementById('plot-'+l.id);
  const xs=xAxisOf(l),ys=yAxisOf(l);
  const n=xVals.length;
  const mx=xVals.reduce(function(a,b){return a+b;},0)/n;
  const my=yVals.reduce(function(a,b){return a+b;},0)/n;
  let sxy=0,sxx=0;
  xVals.forEach(function(x,i){sxy+=(x-mx)*(yVals[i]-my);sxx+=(x-mx)*(x-mx);});
  const slope=sxy/sxx;
  const x0=xVals[0],x1=xVals[n-1];
  const line=document.createElementNS(SVGNS,'line');
  line.setAttribute('x1',xs(x0));line.setAttribute('y1',ys(my+slope*(x0-mx)));
  line.setAttribute('x2',xs(x1));line.setAttribute('y2',ys(my+slope*(x1-mx)));
  line.setAttribute('stroke',color);line.setAttribute('stroke-width',6);
  
  
  g.appendChild(line);
  xVals.forEach(function(x,i){addBall(g,xs(x),ys(yVals[i]),12,fill,'point-'+name);});
}
function drawBars(l){
  const g=document.getElementById('plot-h');
  const xs=xAxisOf(l),ys=yAxisOf(l);
  const fills=['url(#bar-gray)','url(#bar-red)','url(#bar-blue)','url(#bar-green)','url(#bar-purple)'];
  const textColors=['#6e6e6e','#EF3B3F','#3B78DC','#3CAA6E','#8E44C8'];
  const labelOffsetsX=[12,14,2,2,0];
  const labelOffsetsY=[-16,-22,-18,-7,-14];
  hCategories.forEach(function(c,i){
    const bx=xs(c-.5),bw=xs(c+.5)-xs(c-.5),by=ys(hActivationEnergy[i]),bh=ys(0)-by;
    const bar=document.createElementNS(SVGNS,'rect');
    bar.setAttribute('x',bx);bar.setAttribute('y',by);bar.setAttribute('width',bw);bar.setAttribute('height',bh);
    bar.setAttribute('fill',fills[i]);
    
    
    g.appendChild(bar);
    const tex=document.createElementNS(SVGNS,'rect');
    tex.setAttribute('x',bx);tex.setAttribute('y',by);tex.setAttribute('width',bw);tex.setAttribute('height',bh);
    tex.setAttribute('fill','url(#bar-dots)');
    
    
    g.appendChild(tex);
    const t=document.createElementNS(SVGNS,'text');
    t.setAttribute('x',xs(c)+labelOffsetsX[i]);t.setAttribute('y',by+labelOffsetsY[i]);
    t.setAttribute('text-anchor','middle');t.setAttribute('style','fill:'+textColors[i]+';font-size:48px');
    t.textContent=hValueLabels[i];
    
    
    g.appendChild(t);
  });
}

drawNyquistPanel(layoutA,[a400,a415,a430,a445,a460]);
drawAxisTicks(layoutA,aXTicks,aXTicks.map(megaLabel),aYTicks,aYTicks.map(megaLabel),[],[],true);
drawNyquistPanel(layoutB,[b400,b415,b430,b445,b460]);
drawAxisTicks(layoutB,bXTicks,bXTicks.map(megaLabel),bYTicks,bYTicks.map(megaLabel),[],[],true);
drawNyquistPanel(layoutC,[c400,c415,c430,c445,c460]);
drawAxisTicks(layoutC,cXTicks,cXTicks.map(megaLabel),cYTicks,cYTicks.map(megaLabel),[],[],true);
drawNyquistPanel(layoutD,[d400,d415,d430,d445,d460]);
drawAxisTicks(layoutD,dXTicks,dXTicks.map(megaLabel),dYTicks,dYTicks.map(megaLabel),[],[],true);
drawNyquistPanel(layoutE,[e400,e415,e430,e445,e460]);
drawAxisTicks(layoutE,eXTicks,eXTicks.map(megaLabel),eYTicks,eYTicks.map(megaLabel),[],[],true);

drawHollowSeries(layoutF,f008,'circle','#E41A1C',3.2,f008.length,29,'point-f-x008');
drawHollowSeries(layoutF,f010,'up','#377EB8',3.2,18,28,'point-f-x010');
drawHollowSeries(layoutF,f012,'down','#4DAF4A',3.2,7,26,'point-f-x012');
drawHollowSeries(layoutF,f014,'diamond','#984EA3',3.2,9,28,'point-f-x014');
drawHollowSeries(layoutF,f016,'hexagon','#FF7F00',3.2,10,28,'point-f-x016');
drawAxisTicks(layoutF,fXTicks,fXTicks.map(megaLabel),fYTicks,fYTicks.map(megaLabel),fXMinorTicks,fYMinorTicks,true);

drawFitSeries(layoutG,gTemperatureX,gX008,'#4a4a4a','url(#g-gray)','g-x008');
drawFitSeries(layoutG,gTemperatureX,gX010,'#EF3338','url(#g-red)','g-x010');
drawFitSeries(layoutG,gTemperatureX,gX012,'#1A6BD8','url(#g-blue)','g-x012');
drawFitSeries(layoutG,gTemperatureX,gX014,'#35A868','url(#g-green)','g-x014');
drawFitSeries(layoutG,gTemperatureX,gX016,'#AE7CE0','url(#g-purple)','g-x016');
drawAxisTicks(layoutG,gXTicks,gXTickLabels,gYTicks,gYTickLabels,[],[],true);

drawBars(layoutH);
drawAxisTicks(layoutH,hCategories,hCategories.map(String),hYTicks,hYTickLabels,[],[],false);
</script>
</body>
</html>
